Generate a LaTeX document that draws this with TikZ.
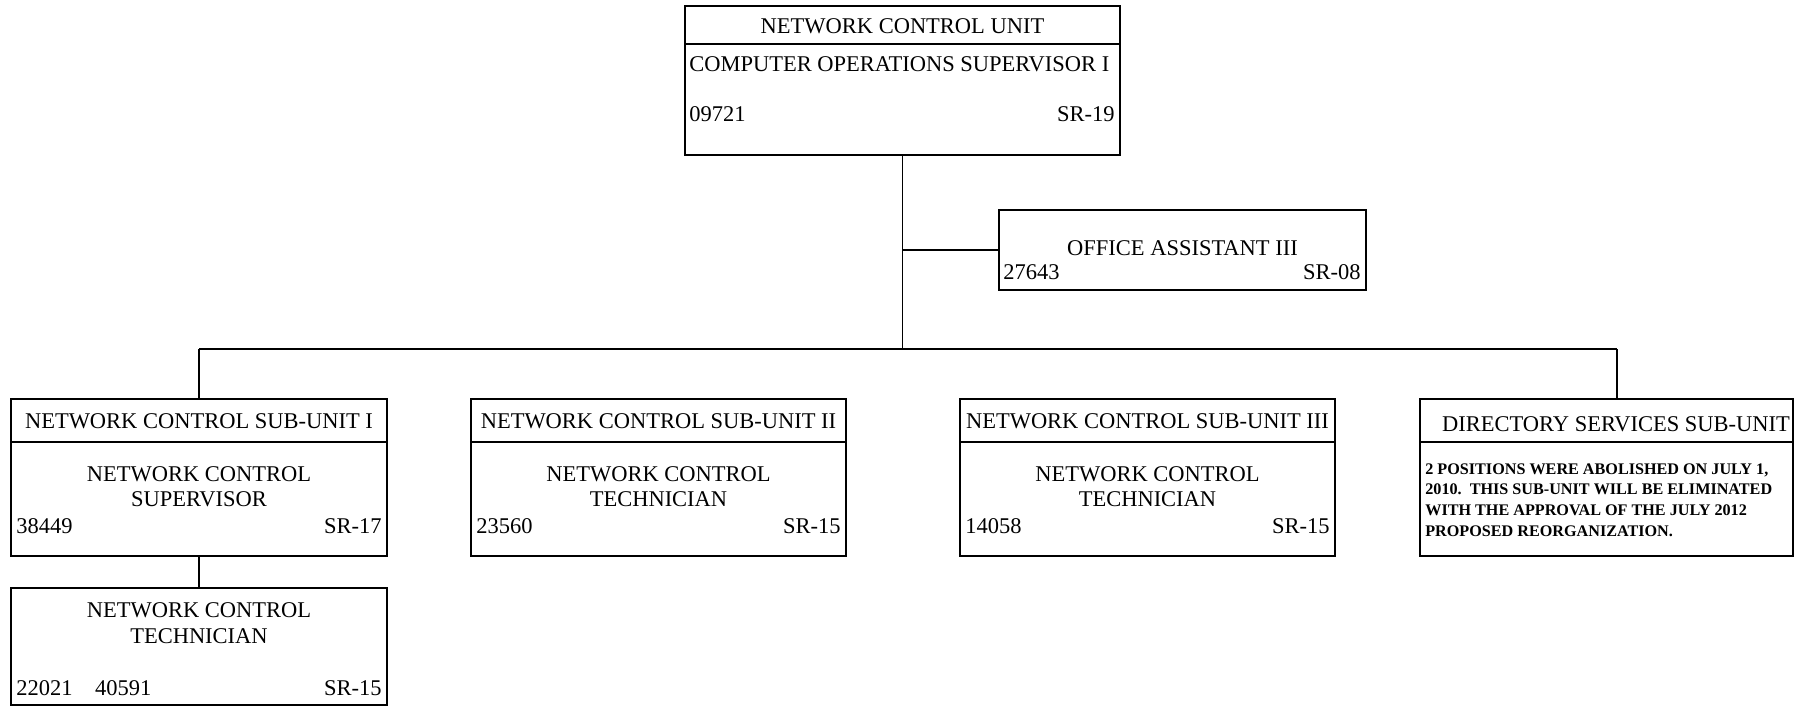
\documentclass[tikz,border=0pt]{standalone}
\usepackage{fontspec}
\setmainfont{Liberation Serif}
\usetikzlibrary{fit}
\begin{document}
\begin{tikzpicture}[x=0.02cm, y=-0.02cm,
  unitbox/.style={draw, line width=0.9pt, inner sep=0pt, fit={#1}},
  wire/.style={line width=0.9pt},
  lbl/.style={font=\fontsize{12.8}{14}\selectfont, inner sep=0pt},
  note/.style={font=\bfseries\fontsize{9.2}{11.8}\selectfont, inner sep=0pt, align=left}]
  \useasboundingbox[fill=white] (0,0) rectangle (1809,707);

  % head of the unit
  \node[unitbox={(685,6) (1120,155)}] (top) {};
  \draw[wire] (top.west |- 0,44) -- (top.east |- 0,44);
  \node[lbl] (topT) at (902.5,26.5) {NETWORK CONTROL UNIT};
  \node[lbl, anchor=west] (topP) at (689,64) {COMPUTER OPERATIONS SUPERVISOR I};
  \node[lbl, anchor=west] (topN) at (689,114) {09721};
  \node[lbl, anchor=east] (topG) at (1115,114) {SR-19};

  % office assistant
  \node[unitbox={(999,210) (1366,290)}] (oa) {};
  \node[lbl] (oaT) at (1182.5,248) {OFFICE ASSISTANT III};
  \node[lbl, anchor=west] (oaN) at (1003,272) {27643};
  \node[lbl, anchor=east] (oaG) at (1361,272) {SR-08};

  % sub-units
  \node[unitbox={(11,399) (387,556)}] (s1) {};
  \node[unitbox={(471,399) (846,556)}] (s2) {};
  \node[unitbox={(960,399) (1335,556)}] (s3) {};
  \node[unitbox={(1420,399) (1793,556)}] (s4) {};
  \foreach \b in {s1,s2,s3,s4}
    \draw[wire] (\b.west |- 0,442) -- (\b.east |- 0,442);

  \node[lbl] (s1T) at (199,421) {NETWORK CONTROL SUB-UNIT I};
  \node[lbl] (s1P) at (199,474) {NETWORK CONTROL};
  \node[lbl] (s1Q) at (199,499) {SUPERVISOR};
  \node[lbl, anchor=west] (s1N) at (16,526) {38449};
  \node[lbl, anchor=east] (s1G) at (382,526) {SR-17};

  \node[lbl] (s2T) at (658.5,421) {NETWORK CONTROL SUB-UNIT II};
  \node[lbl] (s2P) at (658.5,474) {NETWORK CONTROL};
  \node[lbl] (s2Q) at (658.5,499) {TECHNICIAN};
  \node[lbl, anchor=west] (s2N) at (476,526) {23560};
  \node[lbl, anchor=east] (s2G) at (841,526) {SR-15};

  \node[lbl] (s3T) at (1147.5,421) {NETWORK CONTROL SUB-UNIT III};
  \node[lbl] (s3P) at (1147.5,474) {NETWORK CONTROL};
  \node[lbl] (s3Q) at (1147.5,499) {TECHNICIAN};
  \node[lbl, anchor=west] (s3N) at (965,526) {14058};
  \node[lbl, anchor=east] (s3G) at (1330,526) {SR-15};

  \node[lbl] (s4T) at (1616,424) {DIRECTORY SERVICES SUB-UNIT};
  \node[note, anchor=north west] (s4X) at (1425,463)
    {2 POSITIONS WERE ABOLISHED ON JULY 1,\\
     2010.\ \ THIS SUB-UNIT WILL BE ELIMINATED\\
     WITH THE APPROVAL OF THE JULY 2012\\
     PROPOSED REORGANIZATION.};

  % technician under sub-unit I
  \node[unitbox={(11,588) (387,705)}] (tech) {};
  \node[lbl] (techP) at (199,610) {NETWORK CONTROL};
  \node[lbl] (techQ) at (199,636) {TECHNICIAN};
  \node[lbl, anchor=west] (techN) at (16,688) {22021\quad 40591};
  \node[lbl, anchor=east] (techG) at (382,688) {SR-15};

  % reporting lines
  \coordinate (busL) at (199,349);
  \coordinate (busR) at (1617,349);
  \draw[wire] (top.south) -- (top.south |- busL);
  \draw[wire] (top.south |- oa.west) -- (oa.west);
  \draw[wire] (busL) -- (busR);
  \draw[wire] (busL) -- (s1.north);
  \draw[wire] (busR) -- (busR |- s4.north);
  \draw[wire] (s1.south) -- (tech.north);
\end{tikzpicture}
\end{document}
